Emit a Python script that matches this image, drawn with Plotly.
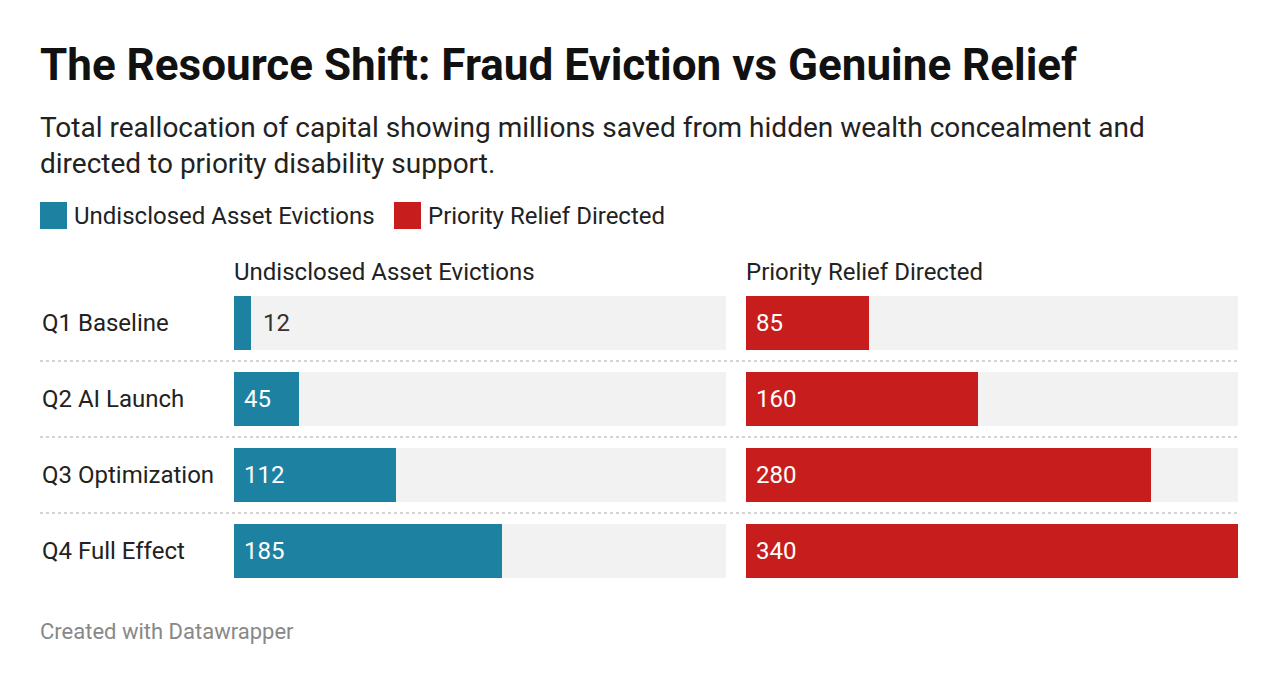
import plotly.graph_objects as go

# datos
quarters = ["Q1 Baseline", "Q2 AI Launch", "Q3 Optimization", "Q4 Full Effect"]
evictions = [12, 45, 112, 185]
relief = [85, 160, 280, 340]
series_names = ["Undisclosed Asset Evictions", "Priority Relief Directed"]
scale_max = 340

BLUE = "#1d81a2"
RED = "#c71e1d"
BG = "#f2f2f2"
FONT = "Roboto"
W, H = 1280, 684
M_TOP, M_BOT = 285, 95
PLOT_H = H - M_TOP - M_BOT
LABEL_SIZE = 24


def px(x):
    # pixel horizontal -> coordenada paper (margenes laterales en 0)
    return x / W


def py(y):
    # pixel vertical -> coordenada paper (relativa al area de trazado)
    return (H - M_BOT - y) / PLOT_H


fig = go.Figure()

panels = [("x", evictions, BLUE), ("x2", relief, RED)]
for xa, vals, col in panels:
    # barra de fondo gris
    fig.add_trace(go.Bar(
        y=quarters, x=[scale_max] * len(quarters), orientation="h",
        marker=dict(color=BG, line=dict(width=0)), xaxis=xa, yaxis="y",
        width=0.71, hoverinfo="skip", showlegend=False))
    fig.add_trace(go.Bar(
        y=quarters, x=vals, orientation="h",
        marker=dict(color=col, line=dict(width=0)), xaxis=xa, yaxis="y",
        width=0.71, showlegend=False))

annotations = []
for xa, vals, col in panels:
    for q, v in zip(quarters, vals):
        inside = v >= 30
        annotations.append(dict(
            x=0 if inside else v, y=q, xref=xa, yref="y",
            text=str(v), showarrow=False, xanchor="left", yanchor="middle",
            xshift=8 if inside else 10,
            font=dict(family=FONT, size=LABEL_SIZE, color="white" if inside else "#333333")))

# etiquetas de categoria
for q in quarters:
    annotations.append(dict(
        x=px(40), y=q, xref="paper", yref="y", text=q, showarrow=False,
        xanchor="left", yanchor="middle",
        font=dict(family=FONT, size=LABEL_SIZE, color="#222222")))

# encabezados de columna
for name, x0 in zip(series_names, [232, 744]):
    annotations.append(dict(
        x=px(x0), y=py(272), xref="paper", yref="paper", text=name,
        showarrow=False, xanchor="left", yanchor="middle",
        font=dict(family=FONT, size=LABEL_SIZE, color="#222222")))

# titulo, subtitulo y pie
annotations += [
    dict(x=px(38), y=py(65), xref="paper", yref="paper",
         text="<b>The Resource Shift: Fraud Eviction vs Genuine Relief</b>",
         showarrow=False, xanchor="left", yanchor="middle",
         font=dict(family=FONT, size=44, color="#111111")),
    dict(x=px(38), y=py(145), xref="paper", yref="paper",
         text="Total reallocation of capital showing millions saved from hidden wealth concealment and"
              "<br>directed to priority disability support.",
         showarrow=False, xanchor="left", yanchor="middle", align="left",
         font=dict(family=FONT, size=28, color="#222222")),
    dict(x=px(38), y=py(631), xref="paper", yref="paper",
         text="Created with Datawrapper", showarrow=False,
         xanchor="left", yanchor="middle",
         font=dict(family=FONT, size=22, color="#888888")),
]

# leyenda
shapes = []
legend_x = [40, 394]
for name, col, lx in zip(series_names, [BLUE, RED], legend_x):
    shapes.append(dict(type="rect", xref="paper", yref="paper",
                       x0=px(lx), x1=px(lx + 27), y0=py(229), y1=py(202),
                       fillcolor=col, line=dict(width=0)))
    annotations.append(dict(
        x=px(lx + 32), y=py(216), xref="paper", yref="paper", text=name,
        showarrow=False, xanchor="left", yanchor="middle",
        font=dict(family=FONT, size=LABEL_SIZE, color="#222222")))

# separadores punteados
for i in range(len(quarters) - 1):
    shapes.append(dict(type="line", xref="paper", yref="y",
                       x0=px(40), x1=px(1238), y0=i + 0.5, y1=i + 0.5,
                       line=dict(color="#d3d3d3", width=2, dash="dot")))

fig.update_layout(
    width=W, height=H,
    margin=dict(l=0, r=0, t=M_TOP, b=M_BOT),
    paper_bgcolor="white", plot_bgcolor="white",
    barmode="overlay", bargap=0,
    xaxis=dict(domain=[px(234), px(726)], range=[0, scale_max], visible=False, fixedrange=True),
    xaxis2=dict(domain=[px(746), px(1238)], range=[0, scale_max], visible=False, fixedrange=True),
    yaxis=dict(categoryorder="array", categoryarray=quarters, autorange="reversed",
               range=[3.5, -0.5], visible=False, fixedrange=True),
    annotations=annotations, shapes=shapes,
    font=dict(family=FONT),
)

fig.write_html("out.html", config={"displayModeBar": False},
               post_script="document.body.style.margin='0';")
